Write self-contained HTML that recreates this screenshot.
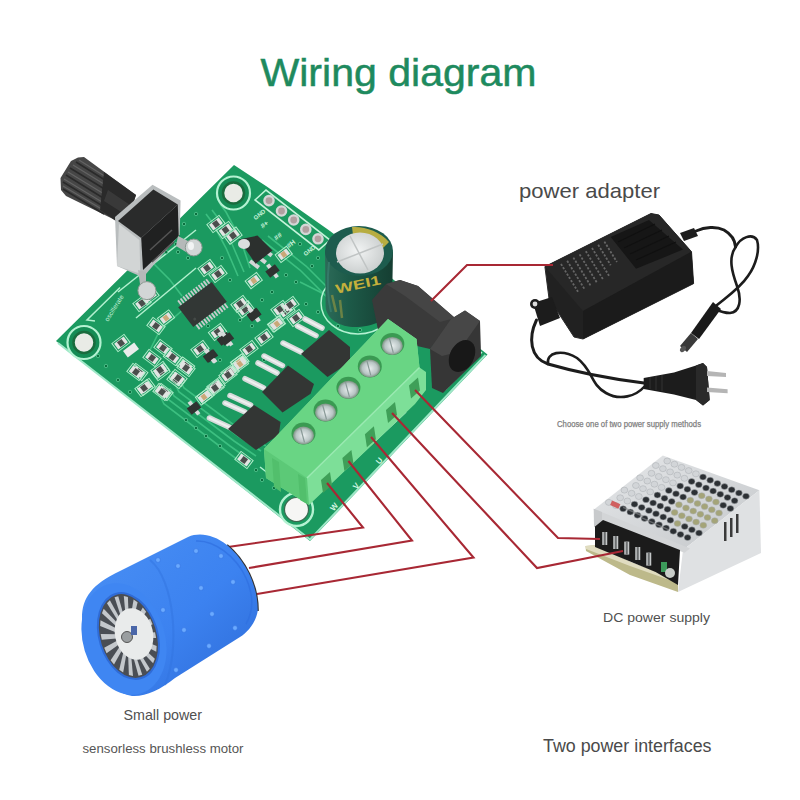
<!DOCTYPE html>
<html><head><meta charset="utf-8">
<style>
html,body{margin:0;padding:0;background:#fff;width:800px;height:800px;overflow:hidden}
svg{display:block}
text{font-family:"Liberation Sans",sans-serif}
</style></head>
<body>
<svg width="800" height="800" viewBox="0 0 800 800">
<defs>
<linearGradient id="knobG" x1="0" y1="0" x2="0" y2="1">
 <stop offset="0" stop-color="#3a3a3a"/><stop offset="0.5" stop-color="#1b1b1b"/><stop offset="1" stop-color="#2a2a2a"/>
</linearGradient>
<linearGradient id="capG" x1="0" y1="0" x2="1" y2="0">
 <stop offset="0" stop-color="#2c6a58"/><stop offset="0.35" stop-color="#1d5a48"/><stop offset="1" stop-color="#153e32"/>
</linearGradient>
<radialGradient id="capTop" cx="0.45" cy="0.45" r="0.6">
 <stop offset="0" stop-color="#f2f4f4"/><stop offset="1" stop-color="#c9cdcd"/>
</radialGradient>
<linearGradient id="motorG" x1="0" y1="0" x2="1" y2="1">
 <stop offset="0" stop-color="#4a90f4"/><stop offset="0.55" stop-color="#3c82f0"/><stop offset="1" stop-color="#2c6ad6"/>
</linearGradient>
<radialGradient id="screwG" cx="0.5" cy="0.5" r="0.5">
 <stop offset="0" stop-color="#e8eeee"/><stop offset="0.7" stop-color="#b8c4c4"/><stop offset="1" stop-color="#7a9080"/>
</radialGradient>
<linearGradient id="psuTop" x1="0" y1="0" x2="1" y2="1">
 <stop offset="0" stop-color="#e6e8ea"/><stop offset="1" stop-color="#c4c7ca"/>
</linearGradient>
</defs>
<rect width="800" height="800" fill="#fff"/>


<text x="260.5" y="86" font-size="38" fill="#1e8a5e" stroke="#1e8a5e" stroke-width="0.5" textLength="276" lengthAdjust="spacingAndGlyphs">Wiring diagram</text>
<text x="519" y="197.5" font-size="21" fill="#4a4a4a" textLength="141" lengthAdjust="spacingAndGlyphs">power adapter</text>
<text x="557" y="427" font-size="8.5" fill="#777" stroke="#888" stroke-width="0.25" textLength="144" lengthAdjust="spacingAndGlyphs">Choose one of two power supply methods</text>
<text x="603" y="621.5" font-size="13.5" fill="#505050" textLength="107" lengthAdjust="spacingAndGlyphs">DC power supply</text>
<text x="123.5" y="720" font-size="15" fill="#505050" textLength="78.5" lengthAdjust="spacingAndGlyphs">Small power</text>
<text x="82.5" y="753" font-size="12" fill="#555" textLength="161" lengthAdjust="spacingAndGlyphs">sensorless brushless motor</text>
<text x="543" y="751.5" font-size="17.5" fill="#4a4a4a" textLength="168.5" lengthAdjust="spacingAndGlyphs">Two power interfaces</text>

<polygon points="234,165 266,186 330,231 420,300 478,347 487.5,354.5 310,541 56,341" fill="#1b9a60"/>
<polyline points="58,343 310,539.5 485.5,355" fill="none" stroke="#9fe8c8" stroke-width="2"/>
<g fill="none" stroke="#3cbf80" stroke-width="1.6"><path d="M160,396 L164,404 L226,451 L246,466"/><path d="M165,392 L169,400 L230,446 L251,461"/><path d="M170,388 L174,396 L234,441 L256,456"/><path d="M175,384 L179,392 L238,436 L261,451"/><path d="M180,380 L184,388 L242,431 L266,446"/><path d="M206,214 L212,222 L226,248 L238,276"/><path d="M212,210 L218,218 L232,244 L244,272"/><path d="M220,204 L226,212 L240,238 L250,268"/><path d="M262,240 L300,270 L330,300"/><path d="M268,236 L306,266 L336,296"/><path d="M150,260 L170,280 L182,296"/><path d="M300,282 L320,292 L336,302"/><path d="M194,300 L160,330 L150,350"/></g>
<g fill="none" stroke="#b2f0cf" stroke-width="1.5"><polyline points="120,287.5 87,320 95,321"/><polyline points="118,292 196,230"/><polyline points="136,318 196,268"/><polyline points="300,470 316,484"/></g>
<text x="108" y="322" font-size="6.5" fill="#c8f2da" transform="rotate(-58 108 322)" textLength="30" lengthAdjust="spacingAndGlyphs">oscillerate</text>
<circle cx="233.5" cy="193" r="16.5" fill="#158c55" stroke="#b4f2d2" stroke-width="2.2"/>
<circle cx="233.5" cy="193" r="10.5" fill="#e9ebe6" stroke="#1a6c3e" stroke-width="2.5"/>
<circle cx="84" cy="342.5" r="16.5" fill="#158c55" stroke="#b4f2d2" stroke-width="2.2"/>
<circle cx="84" cy="342.5" r="10.5" fill="#e9ebe6" stroke="#1a6c3e" stroke-width="2.5"/>
<circle cx="296.5" cy="509.5" r="16.5" fill="#1b9a60" stroke="#b4f2d2" stroke-width="2.4"/>
<circle cx="296.5" cy="509.5" r="12" fill="#f6f6f4" stroke="#3a6a50" stroke-width="1.2"/>
<polyline points="260,467 287,488" fill="none" stroke="#b4f2d2" stroke-width="1.5"/>
<g fill="#0c7040" stroke="#5fd09a" stroke-width="0.7"><circle cx="196.0" cy="214.0" r="1.7"/><circle cx="184.0" cy="224.0" r="1.7"/><circle cx="172.0" cy="234.0" r="1.7"/><circle cx="140.0" cy="378.0" r="1.7"/><circle cx="150.0" cy="386.0" r="1.7"/><circle cx="118.0" cy="380.0" r="1.7"/><circle cx="130.0" cy="392.0" r="1.7"/><circle cx="186.0" cy="420.0" r="1.7"/><circle cx="196.0" cy="428.0" r="1.7"/><circle cx="206.0" cy="436.0" r="1.7"/><circle cx="220.0" cy="446.0" r="1.7"/><circle cx="262.0" cy="480.0" r="1.7"/><circle cx="274.0" cy="488.0" r="1.7"/><circle cx="256.0" cy="470.0" r="1.7"/><circle cx="208.0" cy="326.0" r="1.7"/><circle cx="262.0" cy="300.0" r="1.7"/><circle cx="272.0" cy="292.0" r="1.7"/><circle cx="318.0" cy="258.0" r="1.7"/><circle cx="312.0" cy="266.0" r="1.7"/><circle cx="306.0" cy="304.0" r="1.7"/><circle cx="318.0" cy="312.0" r="1.7"/><circle cx="330.0" cy="300.0" r="1.7"/><circle cx="286.0" cy="275.0" r="1.7"/><circle cx="296.0" cy="282.0" r="1.7"/><circle cx="230.0" cy="280.0" r="1.7"/><circle cx="178.0" cy="252.0" r="1.7"/><circle cx="188.0" cy="258.0" r="1.7"/><circle cx="166.0" cy="252.0" r="1.7"/><circle cx="176.0" cy="244.0" r="1.7"/><circle cx="338.0" cy="326.0" r="1.7"/><circle cx="350.0" cy="318.0" r="1.7"/><circle cx="360.0" cy="330.0" r="1.7"/><circle cx="98.0" cy="356.0" r="1.7"/><circle cx="106.0" cy="366.0" r="1.7"/><circle cx="240.0" cy="320.0" r="1.7"/><circle cx="252.0" cy="326.0" r="1.7"/><circle cx="220.0" cy="360.0" r="1.7"/><circle cx="264.0" cy="360.0" r="1.7"/><circle cx="222.0" cy="258.0" r="1.7"/><circle cx="300.0" cy="244.0" r="1.7"/><circle cx="344.0" cy="282.0" r="1.7"/><circle cx="352.0" cy="290.0" r="1.7"/></g>
<polygon points="255,200 266,190 330,240 318.75,250" fill="none" stroke="#c4f4da" stroke-width="1.6"/>
<g fill="#b0a0a0" stroke="#d4d6d6" stroke-width="2.4">
<circle cx="269" cy="200.6" r="4.6"/>
<circle cx="281.5" cy="211" r="4.6"/>
<circle cx="293.7" cy="220" r="4.6"/>
<circle cx="305.8" cy="229.4" r="4.6"/>
<circle cx="318" cy="238.8" r="4.6"/>
</g>
<g fill="#c8f2da" font-size="6" font-weight="bold"><text x="252" y="218" transform="rotate(-38 257 214)">GND</text><text x="259" y="226" font-size="7" transform="rotate(-38 265 222)">#+</text><text x="273" y="237" font-size="7" transform="rotate(-38 280 234)">##</text><text x="285" y="245" font-size="7" transform="rotate(-38 292 241)">#H</text><text x="302" y="254" transform="rotate(-38 307 250)">GND</text></g>
<g fill="#d4f6e2" font-size="8" font-weight="bold"><text x="329" y="509" transform="rotate(-50 334 505)">W</text><text x="352" y="488" transform="rotate(-50 356 484)">V</text><text x="375" y="463" transform="rotate(-50 379 459)">U</text></g>
<g fill="none" stroke="#c0f2d8" stroke-width="1.4"><polyline points="312,500 406,412"/><polyline points="445,390 482,352"/></g>
<g transform="translate(216,224) rotate(-37)"><rect x="-7.6" y="-5.1" width="15.2" height="10.2" fill="none" stroke="#b0ecca" stroke-width="1"/><rect x="-6.0" y="-3.5" width="12" height="7" fill="#e2e4e2"/><rect x="-2.8" y="-3.0" width="5.6" height="6" fill="#4a4e4c"/></g><g transform="translate(225.6,230) rotate(-37)"><rect x="-7.6" y="-5.1" width="15.2" height="10.2" fill="none" stroke="#b0ecca" stroke-width="1"/><rect x="-6.0" y="-3.5" width="12" height="7" fill="#e2e4e2"/><rect x="-2.8" y="-3.0" width="5.6" height="6" fill="#4a4e4c"/></g><g transform="translate(233,235.6) rotate(-37)"><rect x="-7.6" y="-5.1" width="15.2" height="10.2" fill="none" stroke="#b0ecca" stroke-width="1"/><rect x="-6.0" y="-3.5" width="12" height="7" fill="#e2e4e2"/><rect x="-2.8" y="-3.0" width="5.6" height="6" fill="#4a4e4c"/></g><g transform="translate(207,268) rotate(-37)"><rect x="-7.6" y="-5.1" width="15.2" height="10.2" fill="none" stroke="#b0ecca" stroke-width="1"/><rect x="-6.0" y="-3.5" width="12" height="7" fill="#e2e4e2"/><rect x="-2.8" y="-3.0" width="5.6" height="6" fill="#4a4e4c"/></g><g transform="translate(218,274) rotate(-37)"><rect x="-7.6" y="-5.1" width="15.2" height="10.2" fill="none" stroke="#b0ecca" stroke-width="1"/><rect x="-6.0" y="-3.5" width="12" height="7" fill="#e2e4e2"/><rect x="-2.8" y="-3.0" width="5.6" height="6" fill="#4a4e4c"/></g><g transform="translate(121,343) rotate(-37)"><rect x="-7.6" y="-5.1" width="15.2" height="10.2" fill="none" stroke="#b0ecca" stroke-width="1"/><rect x="-6.0" y="-3.5" width="12" height="7" fill="#e2e4e2"/><rect x="-2.8" y="-3.0" width="5.6" height="6" fill="#4a4e4c"/></g><g transform="translate(156,326) rotate(37)"><rect x="-7.6" y="-5.1" width="15.2" height="10.2" fill="none" stroke="#b0ecca" stroke-width="1"/><rect x="-6.0" y="-3.5" width="12" height="7" fill="#e2e4e2"/><rect x="-2.8" y="-3.0" width="5.6" height="6" fill="#4a4e4c"/></g><g transform="translate(163,348) rotate(37)"><rect x="-7.6" y="-5.1" width="15.2" height="10.2" fill="none" stroke="#b0ecca" stroke-width="1"/><rect x="-6.0" y="-3.5" width="12" height="7" fill="#e2e4e2"/><rect x="-2.8" y="-3.0" width="5.6" height="6" fill="#4a4e4c"/></g><g transform="translate(152,358) rotate(37)"><rect x="-7.6" y="-5.1" width="15.2" height="10.2" fill="none" stroke="#b0ecca" stroke-width="1"/><rect x="-6.0" y="-3.5" width="12" height="7" fill="#e2e4e2"/><rect x="-2.8" y="-3.0" width="5.6" height="6" fill="#4a4e4c"/></g><g transform="translate(172.5,357) rotate(37)"><rect x="-7.6" y="-5.1" width="15.2" height="10.2" fill="none" stroke="#b0ecca" stroke-width="1"/><rect x="-6.0" y="-3.5" width="12" height="7" fill="#e2e4e2"/><rect x="-2.8" y="-3.0" width="5.6" height="6" fill="#4a4e4c"/></g><g transform="translate(185.6,365.6) rotate(37)"><rect x="-7.6" y="-5.1" width="15.2" height="10.2" fill="none" stroke="#b0ecca" stroke-width="1"/><rect x="-6.0" y="-3.5" width="12" height="7" fill="#e2e4e2"/><rect x="-2.8" y="-3.0" width="5.6" height="6" fill="#4a4e4c"/></g><g transform="translate(138.75,372) rotate(37)"><rect x="-7.6" y="-5.1" width="15.2" height="10.2" fill="none" stroke="#b0ecca" stroke-width="1"/><rect x="-6.0" y="-3.5" width="12" height="7" fill="#e2e4e2"/><rect x="-2.8" y="-3.0" width="5.6" height="6" fill="#4a4e4c"/></g><g transform="translate(161,372) rotate(-37)"><rect x="-7.6" y="-5.1" width="15.2" height="10.2" fill="none" stroke="#b0ecca" stroke-width="1"/><rect x="-6.0" y="-3.5" width="12" height="7" fill="#e2e4e2"/><rect x="-2.8" y="-3.0" width="5.6" height="6" fill="#4a4e4c"/></g><g transform="translate(176,380) rotate(37)"><rect x="-7.6" y="-5.1" width="15.2" height="10.2" fill="none" stroke="#b0ecca" stroke-width="1"/><rect x="-6.0" y="-3.5" width="12" height="7" fill="#e2e4e2"/><rect x="-2.8" y="-3.0" width="5.6" height="6" fill="#4a4e4c"/></g><g transform="translate(146,387) rotate(-37)"><rect x="-7.6" y="-5.1" width="15.2" height="10.2" fill="none" stroke="#b0ecca" stroke-width="1"/><rect x="-6.0" y="-3.5" width="12" height="7" fill="#e2e4e2"/><rect x="-2.8" y="-3.0" width="5.6" height="6" fill="#4a4e4c"/></g><g transform="translate(164,392) rotate(37)"><rect x="-7.6" y="-5.1" width="15.2" height="10.2" fill="none" stroke="#b0ecca" stroke-width="1"/><rect x="-6.0" y="-3.5" width="12" height="7" fill="#e2e4e2"/><rect x="-2.8" y="-3.0" width="5.6" height="6" fill="#4a4e4c"/></g><g transform="translate(200,349) rotate(-37)"><rect x="-7.6" y="-5.1" width="15.2" height="10.2" fill="none" stroke="#b0ecca" stroke-width="1"/><rect x="-6.0" y="-3.5" width="12" height="7" fill="#e2e4e2"/><rect x="-2.8" y="-3.0" width="5.6" height="6" fill="#4a4e4c"/></g><g transform="translate(217.5,332) rotate(-37)"><rect x="-7.6" y="-5.1" width="15.2" height="10.2" fill="none" stroke="#b0ecca" stroke-width="1"/><rect x="-6.0" y="-3.5" width="12" height="7" fill="#e2e4e2"/><rect x="-2.8" y="-3.0" width="5.6" height="6" fill="#4a4e4c"/></g><g transform="translate(240,362) rotate(-37)"><rect x="-7.6" y="-5.1" width="15.2" height="10.2" fill="none" stroke="#b0ecca" stroke-width="1"/><rect x="-6.0" y="-3.5" width="12" height="7" fill="#e2e4e2"/><rect x="-2.8" y="-3.0" width="5.6" height="6" fill="#4a4e4c"/></g><g transform="translate(136,372) rotate(37)"><rect x="-7.6" y="-5.1" width="15.2" height="10.2" fill="none" stroke="#b0ecca" stroke-width="1"/><rect x="-6.0" y="-3.5" width="12" height="7" fill="#e2e4e2"/><rect x="-2.8" y="-3.0" width="5.6" height="6" fill="#4a4e4c"/></g><g transform="translate(160,370) rotate(-37)"><rect x="-7.6" y="-5.1" width="15.2" height="10.2" fill="none" stroke="#b0ecca" stroke-width="1"/><rect x="-6.0" y="-3.5" width="12" height="7" fill="#e2e4e2"/><rect x="-2.8" y="-3.0" width="5.6" height="6" fill="#4a4e4c"/></g><g transform="translate(178,378) rotate(37)"><rect x="-7.6" y="-5.1" width="15.2" height="10.2" fill="none" stroke="#b0ecca" stroke-width="1"/><rect x="-6.0" y="-3.5" width="12" height="7" fill="#e2e4e2"/><rect x="-2.8" y="-3.0" width="5.6" height="6" fill="#4a4e4c"/></g><g transform="translate(144,388) rotate(-37)"><rect x="-7.6" y="-5.1" width="15.2" height="10.2" fill="none" stroke="#b0ecca" stroke-width="1"/><rect x="-6.0" y="-3.5" width="12" height="7" fill="#e2e4e2"/><rect x="-2.8" y="-3.0" width="5.6" height="6" fill="#4a4e4c"/></g><g transform="translate(162,392) rotate(37)"><rect x="-7.6" y="-5.1" width="15.2" height="10.2" fill="none" stroke="#b0ecca" stroke-width="1"/><rect x="-6.0" y="-3.5" width="12" height="7" fill="#e2e4e2"/><rect x="-2.8" y="-3.0" width="5.6" height="6" fill="#4a4e4c"/></g><g transform="translate(186,368) rotate(37)"><rect x="-7.6" y="-5.1" width="15.2" height="10.2" fill="none" stroke="#b0ecca" stroke-width="1"/><rect x="-6.0" y="-3.5" width="12" height="7" fill="#e2e4e2"/><rect x="-2.8" y="-3.0" width="5.6" height="6" fill="#4a4e4c"/></g><g transform="translate(216,386) rotate(-37)"><rect x="-7.6" y="-5.1" width="15.2" height="10.2" fill="none" stroke="#b0ecca" stroke-width="1"/><rect x="-6.0" y="-3.5" width="12" height="7" fill="#e2e4e2"/><rect x="-2.8" y="-3.0" width="5.6" height="6" fill="#4a4e4c"/></g><g transform="translate(230,372) rotate(-37)"><rect x="-7.6" y="-5.1" width="15.2" height="10.2" fill="none" stroke="#b0ecca" stroke-width="1"/><rect x="-6.0" y="-3.5" width="12" height="7" fill="#e2e4e2"/><rect x="-2.8" y="-3.0" width="5.6" height="6" fill="#4a4e4c"/></g><g transform="translate(244,460) rotate(37)"><rect x="-7.6" y="-5.1" width="15.2" height="10.2" fill="none" stroke="#b0ecca" stroke-width="1"/><rect x="-6.0" y="-3.5" width="12" height="7" fill="#e2e4e2"/><rect x="-2.8" y="-3.0" width="5.6" height="6" fill="#4a4e4c"/></g><g transform="translate(245,309.4) rotate(-37)"><rect x="-7.6" y="-5.1" width="15.2" height="10.2" fill="none" stroke="#b0ecca" stroke-width="1"/><rect x="-6.0" y="-3.5" width="12" height="7" fill="#e2e4e2"/><rect x="-2.8" y="-3.0" width="5.6" height="6" fill="#4a4e4c"/></g><g transform="translate(286,311) rotate(-37)"><rect x="-7.6" y="-5.1" width="15.2" height="10.2" fill="none" stroke="#b0ecca" stroke-width="1"/><rect x="-6.0" y="-3.5" width="12" height="7" fill="#e2e4e2"/><rect x="-2.8" y="-3.0" width="5.6" height="6" fill="#4a4e4c"/></g><g transform="translate(296,318) rotate(-37)"><rect x="-7.6" y="-5.1" width="15.2" height="10.2" fill="none" stroke="#b0ecca" stroke-width="1"/><rect x="-6.0" y="-3.5" width="12" height="7" fill="#e2e4e2"/><rect x="-2.8" y="-3.0" width="5.6" height="6" fill="#4a4e4c"/></g><g transform="translate(264,337.5) rotate(-37)"><rect x="-7.6" y="-5.1" width="15.2" height="10.2" fill="none" stroke="#b0ecca" stroke-width="1"/><rect x="-6.0" y="-3.5" width="12" height="7" fill="#e2e4e2"/><rect x="-2.8" y="-3.0" width="5.6" height="6" fill="#4a4e4c"/></g><g transform="translate(249,349) rotate(-37)"><rect x="-7.6" y="-5.1" width="15.2" height="10.2" fill="none" stroke="#b0ecca" stroke-width="1"/><rect x="-6.0" y="-3.5" width="12" height="7" fill="#e2e4e2"/><rect x="-2.8" y="-3.0" width="5.6" height="6" fill="#4a4e4c"/></g><g transform="translate(228,375) rotate(-37)"><rect x="-7.6" y="-5.1" width="15.2" height="10.2" fill="none" stroke="#b0ecca" stroke-width="1"/><rect x="-6.0" y="-3.5" width="12" height="7" fill="#e2e4e2"/><rect x="-2.8" y="-3.0" width="5.6" height="6" fill="#4a4e4c"/></g><g transform="translate(215,388) rotate(-37)"><rect x="-7.6" y="-5.1" width="15.2" height="10.2" fill="none" stroke="#b0ecca" stroke-width="1"/><rect x="-6.0" y="-3.5" width="12" height="7" fill="#e2e4e2"/><rect x="-2.8" y="-3.0" width="5.6" height="6" fill="#4a4e4c"/></g><g transform="translate(240,304) rotate(-37)"><rect x="-7.6" y="-5.1" width="15.2" height="10.2" fill="none" stroke="#b0ecca" stroke-width="1"/><rect x="-6.0" y="-3.5" width="12" height="7" fill="#e2e4e2"/><rect x="-2.8" y="-3.0" width="5.6" height="6" fill="#4a4e4c"/></g><g transform="translate(280,309) rotate(-37)"><rect x="-7.6" y="-5.1" width="15.2" height="10.2" fill="none" stroke="#b0ecca" stroke-width="1"/><rect x="-6.0" y="-3.5" width="12" height="7" fill="#e2e4e2"/><rect x="-2.8" y="-3.0" width="5.6" height="6" fill="#4a4e4c"/></g><g transform="translate(290,305) rotate(-37)"><rect x="-7.6" y="-5.1" width="15.2" height="10.2" fill="none" stroke="#b0ecca" stroke-width="1"/><rect x="-6.0" y="-3.5" width="12" height="7" fill="#e2e4e2"/><rect x="-2.8" y="-3.0" width="5.6" height="6" fill="#4a4e4c"/></g><g transform="translate(142,303) rotate(-37)"><rect x="-7.6" y="-5.1" width="15.2" height="10.2" fill="none" stroke="#b0ecca" stroke-width="1"/><rect x="-6.0" y="-3.5" width="12" height="7" fill="#e2e4e2"/><rect x="-2.8" y="-3.0" width="5.6" height="6" fill="#4a4e4c"/></g><g transform="translate(150,296) rotate(-37)"><rect x="-7.6" y="-5.1" width="15.2" height="10.2" fill="none" stroke="#b0ecca" stroke-width="1"/><rect x="-6.0" y="-3.5" width="12" height="7" fill="#e2e4e2"/><rect x="-2.8" y="-3.0" width="5.6" height="6" fill="#4a4e4c"/></g>
<g transform="translate(166,318) rotate(-37)"><rect x="-7.1" y="-4.85" width="14.2" height="9.7" fill="none" stroke="#b0ecca" stroke-width="1"/><rect x="-5.5" y="-3.25" width="11" height="6.5" fill="#e0e2e0"/><rect x="-2.3" y="-2.75" width="4.6" height="5.5" fill="#c9a878"/></g><g transform="translate(283.75,254.4) rotate(-37)"><rect x="-7.1" y="-4.85" width="14.2" height="9.7" fill="none" stroke="#b0ecca" stroke-width="1"/><rect x="-5.5" y="-3.25" width="11" height="6.5" fill="#e0e2e0"/><rect x="-2.3" y="-2.75" width="4.6" height="5.5" fill="#c9a878"/></g><g transform="translate(253.75,280.6) rotate(-37)"><rect x="-7.1" y="-4.85" width="14.2" height="9.7" fill="none" stroke="#b0ecca" stroke-width="1"/><rect x="-5.5" y="-3.25" width="11" height="6.5" fill="#e0e2e0"/><rect x="-2.3" y="-2.75" width="4.6" height="5.5" fill="#c9a878"/></g><g transform="translate(276,324) rotate(-37)"><rect x="-7.1" y="-4.85" width="14.2" height="9.7" fill="none" stroke="#b0ecca" stroke-width="1"/><rect x="-5.5" y="-3.25" width="11" height="6.5" fill="#e0e2e0"/><rect x="-2.3" y="-2.75" width="4.6" height="5.5" fill="#c9a878"/></g><g transform="translate(277,324) rotate(-37)"><rect x="-7.1" y="-4.85" width="14.2" height="9.7" fill="none" stroke="#b0ecca" stroke-width="1"/><rect x="-5.5" y="-3.25" width="11" height="6.5" fill="#e0e2e0"/><rect x="-2.3" y="-2.75" width="4.6" height="5.5" fill="#c9a878"/></g><g transform="translate(239,362) rotate(-37)"><rect x="-7.1" y="-4.85" width="14.2" height="9.7" fill="none" stroke="#b0ecca" stroke-width="1"/><rect x="-5.5" y="-3.25" width="11" height="6.5" fill="#e0e2e0"/><rect x="-2.3" y="-2.75" width="4.6" height="5.5" fill="#c9a878"/></g><g transform="translate(205.6,395.6) rotate(-37)"><rect x="-7.1" y="-4.85" width="14.2" height="9.7" fill="none" stroke="#b0ecca" stroke-width="1"/><rect x="-5.5" y="-3.25" width="11" height="6.5" fill="#e0e2e0"/><rect x="-2.3" y="-2.75" width="4.6" height="5.5" fill="#c9a878"/></g><g transform="translate(204,397) rotate(-37)"><rect x="-7.1" y="-4.85" width="14.2" height="9.7" fill="none" stroke="#b0ecca" stroke-width="1"/><rect x="-5.5" y="-3.25" width="11" height="6.5" fill="#e0e2e0"/><rect x="-2.3" y="-2.75" width="4.6" height="5.5" fill="#c9a878"/></g><g transform="translate(240,364) rotate(-37)"><rect x="-7.1" y="-4.85" width="14.2" height="9.7" fill="none" stroke="#b0ecca" stroke-width="1"/><rect x="-5.5" y="-3.25" width="11" height="6.5" fill="#e0e2e0"/><rect x="-2.3" y="-2.75" width="4.6" height="5.5" fill="#c9a878"/></g>
<g transform="translate(131,350) rotate(-37)"><rect x="-7" y="-4" width="14" height="8" fill="#e8ecea"/></g>
<g transform="translate(272.5,271) rotate(-37)"><rect x="-2" y="-8" width="4" height="16" fill="#d8dcdc"/><rect x="-6" y="-4" width="12" height="8" fill="#2f3331"/></g>
<g transform="translate(253.75,314.4) rotate(-37)"><rect x="-2" y="-8" width="4" height="16" fill="#d8dcdc"/><rect x="-6" y="-4" width="12" height="8" fill="#2f3331"/></g>
<g transform="translate(223.75,338.75) rotate(-37)"><rect x="-2" y="-8" width="4" height="16" fill="#d8dcdc"/><rect x="-6" y="-4" width="12" height="8" fill="#2f3331"/></g>
<g transform="translate(224,339) rotate(-37)"><rect x="-2" y="-8" width="4" height="16" fill="#d8dcdc"/><rect x="-6" y="-4" width="12" height="8" fill="#2f3331"/></g>
<g transform="translate(211,356) rotate(-37)"><rect x="-2" y="-8" width="4" height="16" fill="#d8dcdc"/><rect x="-6" y="-4" width="12" height="8" fill="#2f3331"/></g>
<g transform="translate(194,408) rotate(-37)"><rect x="-2" y="-8" width="4" height="16" fill="#d8dcdc"/><rect x="-6" y="-4" width="12" height="8" fill="#2f3331"/></g>
<g transform="translate(254.4,315) rotate(-37)"><rect x="-2" y="-8" width="4" height="16" fill="#d8dcdc"/><rect x="-6" y="-4" width="12" height="8" fill="#2f3331"/></g>
<g transform="translate(227,339) rotate(-37)"><rect x="-2" y="-8" width="4" height="16" fill="#d8dcdc"/><rect x="-6" y="-4" width="12" height="8" fill="#2f3331"/></g>
<g transform="translate(210,356) rotate(-37)"><rect x="-2" y="-8" width="4" height="16" fill="#d8dcdc"/><rect x="-6" y="-4" width="12" height="8" fill="#2f3331"/></g>
<line x1="305" y1="319" x2="322" y2="328" stroke="#d6dada" stroke-width="5.5" stroke-linecap="round"/><line x1="305" y1="319" x2="322" y2="328" stroke="#f4f6f6" stroke-width="2" stroke-linecap="round" opacity="0.8"/><line x1="297.5" y1="326" x2="316" y2="335.6" stroke="#d6dada" stroke-width="5.5" stroke-linecap="round"/><line x1="297.5" y1="326" x2="316" y2="335.6" stroke="#f4f6f6" stroke-width="2" stroke-linecap="round" opacity="0.8"/><line x1="283" y1="343" x2="301" y2="352" stroke="#d6dada" stroke-width="5.5" stroke-linecap="round"/><line x1="283" y1="343" x2="301" y2="352" stroke="#f4f6f6" stroke-width="2" stroke-linecap="round" opacity="0.8"/><line x1="264" y1="356" x2="282.5" y2="365.6" stroke="#d6dada" stroke-width="5.5" stroke-linecap="round"/><line x1="264" y1="356" x2="282.5" y2="365.6" stroke="#f4f6f6" stroke-width="2" stroke-linecap="round" opacity="0.8"/><line x1="258" y1="363" x2="277" y2="373" stroke="#d6dada" stroke-width="5.5" stroke-linecap="round"/><line x1="258" y1="363" x2="277" y2="373" stroke="#f4f6f6" stroke-width="2" stroke-linecap="round" opacity="0.8"/><line x1="245" y1="378.7" x2="263.7" y2="388" stroke="#d6dada" stroke-width="5.5" stroke-linecap="round"/><line x1="245" y1="378.7" x2="263.7" y2="388" stroke="#f4f6f6" stroke-width="2" stroke-linecap="round" opacity="0.8"/><line x1="230" y1="395.6" x2="250.6" y2="405" stroke="#d6dada" stroke-width="5.5" stroke-linecap="round"/><line x1="230" y1="395.6" x2="250.6" y2="405" stroke="#f4f6f6" stroke-width="2" stroke-linecap="round" opacity="0.8"/><line x1="225" y1="403" x2="245" y2="412" stroke="#d6dada" stroke-width="5.5" stroke-linecap="round"/><line x1="225" y1="403" x2="245" y2="412" stroke="#f4f6f6" stroke-width="2" stroke-linecap="round" opacity="0.8"/><line x1="209.4" y1="418" x2="230" y2="427.5" stroke="#d6dada" stroke-width="5.5" stroke-linecap="round"/><line x1="209.4" y1="418" x2="230" y2="427.5" stroke="#f4f6f6" stroke-width="2" stroke-linecap="round" opacity="0.8"/>
<g transform="translate(202.5,304.5) rotate(-37)"><rect x="-18.0" y="-18" width="1.8" height="36" fill="#c9cccc"/><rect x="-14.8" y="-18" width="1.8" height="36" fill="#c9cccc"/><rect x="-11.6" y="-18" width="1.8" height="36" fill="#c9cccc"/><rect x="-8.399999999999999" y="-18" width="1.8" height="36" fill="#c9cccc"/><rect x="-5.199999999999999" y="-18" width="1.8" height="36" fill="#c9cccc"/><rect x="-2.0" y="-18" width="1.8" height="36" fill="#c9cccc"/><rect x="1.2000000000000028" y="-18" width="1.8" height="36" fill="#c9cccc"/><rect x="4.400000000000002" y="-18" width="1.8" height="36" fill="#c9cccc"/><rect x="7.600000000000001" y="-18" width="1.8" height="36" fill="#c9cccc"/><rect x="10.8" y="-18" width="1.8" height="36" fill="#c9cccc"/><rect x="14.0" y="-18" width="1.8" height="36" fill="#c9cccc"/><rect x="17.200000000000003" y="-18" width="1.8" height="36" fill="#c9cccc"/><rect x="-21" y="-12.5" width="42" height="25" fill="#323735"/><circle cx="-15" cy="7" r="1.5" fill="#444a47"/></g>
<g fill="#d2d6d6"><rect x="262" y="250" width="11" height="4" transform="rotate(37 267 252)"/><rect x="256" y="257" width="11" height="4" transform="rotate(37 261 259)"/><rect x="249" y="262" width="11" height="4" transform="rotate(37 254 264)"/></g>
<polygon points="238.75,239.4 257.5,235.6 272.5,250.6 255.6,263.75" fill="#2c302e"/><ellipse cx="244" cy="244" rx="6" ry="5" fill="#dadede"/>
<g fill="#333634"><polygon points="301,354 329,330 350,347 350,362 327.5,377"/><polygon points="262,392 288,365.6 314,384 310.6,393.75 282.5,412.5"/><polygon points="228,429 254,405 280.6,422 278.75,435 256,450"/></g>
<g id="pot">
 <polygon points="71,161 78,157.5 84,157 114,179 136,195 126,225 119,223 113,219 66,196 61,190 60.5,178" fill="#464646"/>
 <g stroke="#2a2a2a" stroke-width="1.6">
  <line x1="76" y1="162" x2="113" y2="185"/><line x1="70" y1="168" x2="111" y2="193"/>
  <line x1="66" y1="175" x2="108" y2="201"/><line x1="63" y1="182" x2="106" y2="208"/><line x1="63" y1="189" x2="104" y2="214"/>
 </g>
 <g stroke="#636363" stroke-width="1.2">
  <line x1="79" y1="160" x2="114" y2="182"/><line x1="73" y1="165" x2="112" y2="189"/>
  <line x1="68" y1="172" x2="109" y2="197"/><line x1="64" y1="179" x2="107" y2="205"/><line x1="63" y1="186" x2="105" y2="211"/>
 </g>
 <polygon points="104,172 136,195 126,225 119,223 100,210" fill="#2a2a2a"/>
 <polygon points="108,190 130,205 126,215 104,201" fill="#444" opacity="0.6"/>
 <polygon points="115,217 152.5,184.7 180.6,200.6 179.7,234.4 143,277.5 117,266" fill="#b9bdbe"/>
 <polygon points="118,221 153.4,189.4 177.8,204.4 141.2,238" fill="#2a2b2b"/>
 <polygon points="141.2,238 177.8,204.4 178.7,236.2 143,270" fill="#202121"/>
 <polygon points="119,224 139.4,240 140.3,273.7 117,266" fill="#d2d5d5"/>
 <g stroke="#555" stroke-width="1.5"><line x1="150" y1="250" x2="172" y2="230"/><line x1="152" y1="262" x2="174" y2="242"/></g>
 <polygon points="178,236 190,242 186,252 176,246" fill="#b5b9b9"/>
 <circle cx="193.7" cy="247.5" r="8.4" fill="#d2d6d6" stroke="#8c9a92" stroke-width="1"/>
 <ellipse cx="191" cy="246" rx="3" ry="4" fill="#f2f4f4"/>
 <polygon points="138,270 146,272 146,284 140,284" fill="#b5b9b9"/>
 <circle cx="146.9" cy="290.6" r="9" fill="#d2d6d6" stroke="#8c9a92" stroke-width="1"/>
</g>
<g id="cap">
 <ellipse cx="358" cy="303" rx="37" ry="31" fill="none" stroke="#b4f2d2" stroke-width="1.5"/>
 <path d="M325,252 L325.6,306 C326,320 342,328 358,327 C376,326 392,318 392,304 L393,252 Z" fill="url(#capG)"/>
 <ellipse cx="359" cy="251" rx="34" ry="25" fill="#1d5c4e"/>
 <path d="M352,227 C364,226 380,231 389,242 L383,248 C375,240 364,236 353,235 Z" fill="#c9b640" opacity="0.9"/>
 <ellipse cx="360" cy="253" rx="24" ry="20.5" fill="url(#capTop)"/>
 <line x1="350" y1="236" x2="368" y2="270" stroke="#c0c4c4" stroke-width="1.5"/>
 <line x1="337" y1="262" x2="383" y2="244" stroke="#c0c4c4" stroke-width="1.5"/>
 <text x="335" y="289" font-size="13" font-weight="bold" fill="#c4b03c" transform="rotate(-12 358 284)" textLength="46" lengthAdjust="spacingAndGlyphs">WEI1</text>
 <path d="M332,295 L336,312 M340,300 L342,318" stroke="#9a9a40" stroke-width="2.5" opacity="0.6"/>
 <path d="M329,262 C327,280 328,300 331,312" stroke="#3a8070" stroke-width="2" fill="none" opacity="0.7"/>
</g>
<g id="jack">
 <polygon points="372,300 386,284 400,280 418,286 455,318 430,349 400,342 378,330" fill="#3a3a3a"/>
 <polygon points="386,284 400,280 418,286 455,318 440,322 405,296" fill="#454545"/>
 <polygon points="430,349 451,319 465,310.5 480,321 480.75,345.5 481,356 443,393 432,388" fill="#363636"/>
 <polygon points="430,349 451,319 465,310.5 480,321 458,352 442,356" fill="#474747"/>
 <ellipse cx="462" cy="356" rx="12" ry="17" transform="rotate(28 462 356)" fill="#181818"/>
</g>
<g id="term">
 <polygon points="264,449 388,319 416.5,339 419.5,367.5 426,372 426,390 415,404 309,505 266,478" fill="#7ddf98"/>
 <polygon points="264,449 388,319 416.5,339 419.5,367.5 307,478 268,456" fill="#69d584"/>
 <polygon points="264,449 307,478 309,505 266,478" fill="#5cc977"/>
 <line x1="307" y1="478" x2="419.5" y2="367.5" stroke="#9aeab2" stroke-width="1.5"/>
 <polygon points="272,458 279,462 281,492 274,487" fill="#52bf6c"/>
 <polygon points="298,474 305,478 307,504 300,500" fill="#52bf6c"/>

<ellipse cx="392.3" cy="343.9" rx="12" ry="11" fill="#3a9a52"/>
<ellipse cx="392.3" cy="345.9" rx="10.5" ry="9" fill="url(#screwG)"/>
<line x1="389.3" y1="337.9" x2="393.3" y2="352.9" stroke="#8a9a98" stroke-width="1.2"/>
<ellipse cx="369.8" cy="366.4" rx="12" ry="11" fill="#3a9a52"/>
<ellipse cx="369.8" cy="368.4" rx="10.5" ry="9" fill="url(#screwG)"/>
<line x1="366.8" y1="360.4" x2="370.8" y2="375.4" stroke="#8a9a98" stroke-width="1.2"/>
<ellipse cx="348.4" cy="387.8" rx="12" ry="11" fill="#3a9a52"/>
<ellipse cx="348.4" cy="389.8" rx="10.5" ry="9" fill="url(#screwG)"/>
<line x1="345.4" y1="381.8" x2="349.4" y2="396.8" stroke="#8a9a98" stroke-width="1.2"/>
<ellipse cx="325.5" cy="410.5" rx="12" ry="11" fill="#3a9a52"/>
<ellipse cx="325.5" cy="412.5" rx="10.5" ry="9" fill="url(#screwG)"/>
<line x1="322.5" y1="404.5" x2="326.5" y2="419.5" stroke="#8a9a98" stroke-width="1.2"/>
<ellipse cx="303.5" cy="433.5" rx="12" ry="11" fill="#3a9a52"/>
<ellipse cx="303.5" cy="435.5" rx="10.5" ry="9" fill="url(#screwG)"/>
<line x1="300.5" y1="427.5" x2="304.5" y2="442.5" stroke="#8a9a98" stroke-width="1.2"/>
<polygon points="409,385.5 418,377.5 420,390.5 411,398.5" fill="#3f9f58"/>
<polygon points="386,410 395,402 397,415 388,423" fill="#3f9f58"/>
<polygon points="364.9,434.2 373.9,426.2 375.9,439.2 366.9,447.2" fill="#3f9f58"/>
<polygon points="342.4,458 351.4,450 353.4,463 344.4,471" fill="#3f9f58"/>
<polygon points="321,480 330,472 332,485 323,493" fill="#3f9f58"/>
</g>
<g id="adapter">
 <g fill="none" stroke="#1c1c1c" stroke-linecap="round">
  <path d="M696,231 C705,227 716,226 724,230 C731,234 735,240 735.6,247" stroke-width="3"/>
  <path d="M735.6,247 C741,237 752,233 757,240 C760,250 756,265 748,276 C740,288 728,296 717,305" stroke-width="2.6"/>
  <path d="M735.6,247 C728,258 732,272 737,286 C742,300 740,312 730,313 C724,313 719,311 715,309" stroke-width="2.6"/>
  <path d="M536.5,320 C528,338 530,358 548,364 C572,371 604,378 644,383" stroke-width="3"/>
  <path d="M548,364 C546,352 562,349 577,358 C593,370 590,384 606,393 C620,401 636,396 644,387" stroke-width="2.6"/>
 </g>
 <polygon points="680,233 694,228 698,236 684,241" fill="#1e1e1e"/>
 <polygon points="713,302 721,309 699,339 691,333" fill="#1a1a1a"/>
 <polygon points="691,333 698,339 687,352 680,346" fill="#3a3a3a"/>
 <ellipse cx="683" cy="349" rx="3.5" ry="2.5" transform="rotate(-50 683 349)" fill="#555"/>
 <polygon points="544.9,266.6 651,213.5 659,215 691.5,251.7 693.6,283.6 583,339 574,337 549,298.5" fill="#212121" stroke="#2a2a2a" stroke-width="1" stroke-linejoin="round"/>
 <polygon points="544.9,266.6 651,213.5 659,215 691.5,251.7 583,311" fill="#272727"/>
 <polygon points="610.7,237 649,219.9 683,249.6 636,268.7" fill="#161616"/>
 <g stroke="#101010" stroke-width="1.2"><line x1="618" y1="242" x2="655" y2="224"/><line x1="624" y1="248" x2="662" y2="230"/><line x1="630" y1="254" x2="669" y2="236"/><line x1="636" y1="260" x2="676" y2="242"/></g>
 <polygon points="583,311 691.5,251.7 693.6,283.6 583,339" fill="#1b1b1b"/>
 <g stroke="#7c7c7c" stroke-width="1.8" stroke-dasharray="2.2 1.6" opacity="0.75"><line x1="561.0" y1="264.0" x2="578.7" y2="292.9"/><line x1="567.2" y1="260.8" x2="584.9" y2="289.7"/><line x1="573.4" y1="257.6" x2="591.1" y2="286.5"/><line x1="579.6" y1="254.4" x2="597.3" y2="283.3"/><line x1="585.8" y1="251.2" x2="603.5" y2="280.1"/><line x1="592.0" y1="248.0" x2="609.7" y2="276.9"/><line x1="598.2" y1="244.8" x2="610.7" y2="265.2"/><line x1="604.4" y1="241.6" x2="616.9" y2="262.0"/></g>
 <polygon points="533,303 552,297 560,318 540,326" fill="#1c1c1c"/>
 <circle cx="535" cy="304" r="5" fill="#1e1e1e"/><circle cx="535" cy="304" r="2.4" fill="#ddd"/>
 <polygon points="643.7,378 674,372.5 696,365.6 703,363 707,367 709.7,400 703,405.5 696,400 674,394.5 643.7,389" fill="#1c1c1c"/>
 <polygon points="696,365.6 703,363 707,367 709.7,400 703,405.5 696,400" fill="#2a2a2a"/>
 <g stroke="#333" stroke-width="1"><line x1="650" y1="377" x2="650" y2="389"/><line x1="656" y1="376" x2="656" y2="390"/><line x1="662" y1="375" x2="662" y2="391"/></g>
 <polygon points="707,371 726,373 726,377 707,376" fill="#b5b5b5"/>
 <polygon points="707,387.6 727.6,389.2 727.6,393.2 707,392" fill="#b5b5b5"/>
</g>
<g id="psu">
 <polygon points="585.5,546 597,545 630,562 678,580 678,592 630,575 586,551" fill="#bdb98a"/>
 <polygon points="585.5,546 597,545 630,562 678,580 678,583 630,566 586,549" fill="#e0dcc0"/>
 <polygon points="593.4,510 662.8,455.6 759.4,490.3 683,550" fill="url(#psuTop)"/>
 <polygon points="683,550 759.4,490.3 761,553 678,592" fill="#dfe1e3"/>
 <polygon points="593.7,508.7 690,548.6 684.5,552.8 598,520" fill="#d3d5d7"/>
 <polygon points="593.7,508.7 602,512 602,528 594,527" fill="#c8cacc"/>
 <polygon points="595,526.6 603,520 680,550 678,585 655.6,572 595,547" fill="#1b1b1b"/>

<g><ellipse cx="608.8" cy="502.4" rx="3.4" ry="3.0" fill="#d2d5d8" stroke="#a8acb0" stroke-width="0.5"/><ellipse cx="615.9" cy="505.6" rx="3.4" ry="3.0" fill="#d2d5d8" stroke="#a8acb0" stroke-width="0.5"/><ellipse cx="623.1" cy="508.8" rx="3.4" ry="3.0" fill="#2c3034" stroke="#a8acb0" stroke-width="0.5"/><ellipse cx="630.3" cy="512.0" rx="3.4" ry="3.0" fill="#2c3034" stroke="#a8acb0" stroke-width="0.5"/><ellipse cx="637.5" cy="515.2" rx="3.4" ry="3.0" fill="#2c3034" stroke="#a8acb0" stroke-width="0.5"/><ellipse cx="644.6" cy="518.4" rx="3.4" ry="3.0" fill="#2c3034" stroke="#a8acb0" stroke-width="0.5"/><ellipse cx="651.8" cy="521.6" rx="3.4" ry="3.0" fill="#2c3034" stroke="#a8acb0" stroke-width="0.5"/><ellipse cx="659.0" cy="524.8" rx="3.4" ry="3.0" fill="#2c3034" stroke="#a8acb0" stroke-width="0.5"/><ellipse cx="666.1" cy="528.0" rx="3.4" ry="3.0" fill="#2c3034" stroke="#a8acb0" stroke-width="0.5"/><ellipse cx="673.3" cy="531.2" rx="3.4" ry="3.0" fill="#2c3034" stroke="#a8acb0" stroke-width="0.5"/><ellipse cx="680.5" cy="534.4" rx="3.4" ry="3.0" fill="#2c3034" stroke="#a8acb0" stroke-width="0.5"/><ellipse cx="687.6" cy="537.6" rx="3.4" ry="3.0" fill="#2c3034" stroke="#a8acb0" stroke-width="0.5"/><ellipse cx="620.2" cy="497.8" rx="3.4" ry="3.0" fill="#d2d5d8" stroke="#a8acb0" stroke-width="0.5"/><ellipse cx="627.4" cy="501.0" rx="3.4" ry="3.0" fill="#d2d5d8" stroke="#a8acb0" stroke-width="0.5"/><ellipse cx="634.5" cy="504.2" rx="3.4" ry="3.0" fill="#2c3034" stroke="#a8acb0" stroke-width="0.5"/><ellipse cx="641.7" cy="507.4" rx="3.4" ry="3.0" fill="#2c3034" stroke="#a8acb0" stroke-width="0.5"/><ellipse cx="648.9" cy="510.6" rx="3.4" ry="3.0" fill="#2c3034" stroke="#a8acb0" stroke-width="0.5"/><ellipse cx="656.0" cy="513.8" rx="3.4" ry="3.0" fill="#2c3034" stroke="#a8acb0" stroke-width="0.5"/><ellipse cx="663.2" cy="517.0" rx="3.4" ry="3.0" fill="#2c3034" stroke="#a8acb0" stroke-width="0.5"/><ellipse cx="670.4" cy="520.2" rx="3.4" ry="3.0" fill="#2c3034" stroke="#a8acb0" stroke-width="0.5"/><ellipse cx="677.5" cy="523.4" rx="3.4" ry="3.0" fill="#a4a478" stroke="#a8acb0" stroke-width="0.5"/><ellipse cx="684.7" cy="526.6" rx="3.4" ry="3.0" fill="#2c3034" stroke="#a8acb0" stroke-width="0.5"/><ellipse cx="691.9" cy="529.8" rx="3.4" ry="3.0" fill="#2c3034" stroke="#a8acb0" stroke-width="0.5"/><ellipse cx="699.0" cy="533.0" rx="3.4" ry="3.0" fill="#2c3034" stroke="#a8acb0" stroke-width="0.5"/><ellipse cx="624.4" cy="490.1" rx="3.4" ry="3.0" fill="#d2d5d8" stroke="#a8acb0" stroke-width="0.5"/><ellipse cx="631.6" cy="493.3" rx="3.4" ry="3.0" fill="#d2d5d8" stroke="#a8acb0" stroke-width="0.5"/><ellipse cx="638.8" cy="496.5" rx="3.4" ry="3.0" fill="#d2d5d8" stroke="#a8acb0" stroke-width="0.5"/><ellipse cx="646.0" cy="499.7" rx="3.4" ry="3.0" fill="#2c3034" stroke="#a8acb0" stroke-width="0.5"/><ellipse cx="653.1" cy="502.9" rx="3.4" ry="3.0" fill="#2c3034" stroke="#a8acb0" stroke-width="0.5"/><ellipse cx="660.3" cy="506.1" rx="3.4" ry="3.0" fill="#2c3034" stroke="#a8acb0" stroke-width="0.5"/><ellipse cx="667.5" cy="509.3" rx="3.4" ry="3.0" fill="#2c3034" stroke="#a8acb0" stroke-width="0.5"/><ellipse cx="674.6" cy="512.5" rx="3.4" ry="3.0" fill="#a4a478" stroke="#a8acb0" stroke-width="0.5"/><ellipse cx="681.8" cy="515.7" rx="3.4" ry="3.0" fill="#a4a478" stroke="#a8acb0" stroke-width="0.5"/><ellipse cx="689.0" cy="518.9" rx="3.4" ry="3.0" fill="#a4a478" stroke="#a8acb0" stroke-width="0.5"/><ellipse cx="696.1" cy="522.1" rx="3.4" ry="3.0" fill="#a4a478" stroke="#a8acb0" stroke-width="0.5"/><ellipse cx="703.3" cy="525.3" rx="3.4" ry="3.0" fill="#a4a478" stroke="#a8acb0" stroke-width="0.5"/><ellipse cx="635.9" cy="485.5" rx="3.4" ry="3.0" fill="#d2d5d8" stroke="#a8acb0" stroke-width="0.5"/><ellipse cx="643.0" cy="488.7" rx="3.4" ry="3.0" fill="#d2d5d8" stroke="#a8acb0" stroke-width="0.5"/><ellipse cx="650.2" cy="491.9" rx="3.4" ry="3.0" fill="#d2d5d8" stroke="#a8acb0" stroke-width="0.5"/><ellipse cx="657.4" cy="495.1" rx="3.4" ry="3.0" fill="#2c3034" stroke="#a8acb0" stroke-width="0.5"/><ellipse cx="664.5" cy="498.3" rx="3.4" ry="3.0" fill="#2c3034" stroke="#a8acb0" stroke-width="0.5"/><ellipse cx="671.7" cy="501.5" rx="3.4" ry="3.0" fill="#2c3034" stroke="#a8acb0" stroke-width="0.5"/><ellipse cx="678.9" cy="504.7" rx="3.4" ry="3.0" fill="#a4a478" stroke="#a8acb0" stroke-width="0.5"/><ellipse cx="686.0" cy="507.9" rx="3.4" ry="3.0" fill="#a4a478" stroke="#a8acb0" stroke-width="0.5"/><ellipse cx="693.2" cy="511.1" rx="3.4" ry="3.0" fill="#a4a478" stroke="#a8acb0" stroke-width="0.5"/><ellipse cx="700.4" cy="514.3" rx="3.4" ry="3.0" fill="#a4a478" stroke="#a8acb0" stroke-width="0.5"/><ellipse cx="707.5" cy="517.5" rx="3.4" ry="3.0" fill="#a4a478" stroke="#a8acb0" stroke-width="0.5"/><ellipse cx="714.7" cy="520.7" rx="3.4" ry="3.0" fill="#a4a478" stroke="#a8acb0" stroke-width="0.5"/><ellipse cx="640.1" cy="477.8" rx="3.4" ry="3.0" fill="#d2d5d8" stroke="#a8acb0" stroke-width="0.5"/><ellipse cx="647.3" cy="481.0" rx="3.4" ry="3.0" fill="#d2d5d8" stroke="#a8acb0" stroke-width="0.5"/><ellipse cx="654.4" cy="484.2" rx="3.4" ry="3.0" fill="#d2d5d8" stroke="#a8acb0" stroke-width="0.5"/><ellipse cx="661.6" cy="487.4" rx="3.4" ry="3.0" fill="#d2d5d8" stroke="#a8acb0" stroke-width="0.5"/><ellipse cx="668.8" cy="490.6" rx="3.4" ry="3.0" fill="#2c3034" stroke="#a8acb0" stroke-width="0.5"/><ellipse cx="676.0" cy="493.8" rx="3.4" ry="3.0" fill="#2c3034" stroke="#a8acb0" stroke-width="0.5"/><ellipse cx="683.1" cy="497.0" rx="3.4" ry="3.0" fill="#2c3034" stroke="#a8acb0" stroke-width="0.5"/><ellipse cx="690.3" cy="500.2" rx="3.4" ry="3.0" fill="#a4a478" stroke="#a8acb0" stroke-width="0.5"/><ellipse cx="697.5" cy="503.4" rx="3.4" ry="3.0" fill="#a4a478" stroke="#a8acb0" stroke-width="0.5"/><ellipse cx="704.6" cy="506.6" rx="3.4" ry="3.0" fill="#a4a478" stroke="#a8acb0" stroke-width="0.5"/><ellipse cx="711.8" cy="509.8" rx="3.4" ry="3.0" fill="#a4a478" stroke="#a8acb0" stroke-width="0.5"/><ellipse cx="719.0" cy="513.0" rx="3.4" ry="3.0" fill="#a4a478" stroke="#a8acb0" stroke-width="0.5"/><ellipse cx="651.5" cy="473.3" rx="3.4" ry="3.0" fill="#d2d5d8" stroke="#a8acb0" stroke-width="0.5"/><ellipse cx="658.7" cy="476.5" rx="3.4" ry="3.0" fill="#d2d5d8" stroke="#a8acb0" stroke-width="0.5"/><ellipse cx="665.9" cy="479.7" rx="3.4" ry="3.0" fill="#d2d5d8" stroke="#a8acb0" stroke-width="0.5"/><ellipse cx="673.0" cy="482.9" rx="3.4" ry="3.0" fill="#d2d5d8" stroke="#a8acb0" stroke-width="0.5"/><ellipse cx="680.2" cy="486.1" rx="3.4" ry="3.0" fill="#2c3034" stroke="#a8acb0" stroke-width="0.5"/><ellipse cx="687.4" cy="489.3" rx="3.4" ry="3.0" fill="#2c3034" stroke="#a8acb0" stroke-width="0.5"/><ellipse cx="694.5" cy="492.5" rx="3.4" ry="3.0" fill="#2c3034" stroke="#a8acb0" stroke-width="0.5"/><ellipse cx="701.7" cy="495.7" rx="3.4" ry="3.0" fill="#a4a478" stroke="#a8acb0" stroke-width="0.5"/><ellipse cx="708.9" cy="498.9" rx="3.4" ry="3.0" fill="#a4a478" stroke="#a8acb0" stroke-width="0.5"/><ellipse cx="716.0" cy="502.1" rx="3.4" ry="3.0" fill="#a4a478" stroke="#a8acb0" stroke-width="0.5"/><ellipse cx="723.2" cy="505.3" rx="3.4" ry="3.0" fill="#2c3034" stroke="#a8acb0" stroke-width="0.5"/><ellipse cx="730.4" cy="508.5" rx="3.4" ry="3.0" fill="#2c3034" stroke="#a8acb0" stroke-width="0.5"/><ellipse cx="655.8" cy="465.5" rx="3.4" ry="3.0" fill="#d2d5d8" stroke="#a8acb0" stroke-width="0.5"/><ellipse cx="662.9" cy="468.7" rx="3.4" ry="3.0" fill="#d2d5d8" stroke="#a8acb0" stroke-width="0.5"/><ellipse cx="670.1" cy="471.9" rx="3.4" ry="3.0" fill="#d2d5d8" stroke="#a8acb0" stroke-width="0.5"/><ellipse cx="677.3" cy="475.1" rx="3.4" ry="3.0" fill="#d2d5d8" stroke="#a8acb0" stroke-width="0.5"/><ellipse cx="684.4" cy="478.3" rx="3.4" ry="3.0" fill="#d2d5d8" stroke="#a8acb0" stroke-width="0.5"/><ellipse cx="691.6" cy="481.5" rx="3.4" ry="3.0" fill="#2c3034" stroke="#a8acb0" stroke-width="0.5"/><ellipse cx="698.8" cy="484.7" rx="3.4" ry="3.0" fill="#2c3034" stroke="#a8acb0" stroke-width="0.5"/><ellipse cx="706.0" cy="487.9" rx="3.4" ry="3.0" fill="#2c3034" stroke="#a8acb0" stroke-width="0.5"/><ellipse cx="713.1" cy="491.1" rx="3.4" ry="3.0" fill="#2c3034" stroke="#a8acb0" stroke-width="0.5"/><ellipse cx="720.3" cy="494.3" rx="3.4" ry="3.0" fill="#2c3034" stroke="#a8acb0" stroke-width="0.5"/><ellipse cx="727.5" cy="497.5" rx="3.4" ry="3.0" fill="#2c3034" stroke="#a8acb0" stroke-width="0.5"/><ellipse cx="734.6" cy="500.7" rx="3.4" ry="3.0" fill="#2c3034" stroke="#a8acb0" stroke-width="0.5"/><ellipse cx="667.2" cy="461.0" rx="3.4" ry="3.0" fill="#d2d5d8" stroke="#a8acb0" stroke-width="0.5"/><ellipse cx="674.4" cy="464.2" rx="3.4" ry="3.0" fill="#d2d5d8" stroke="#a8acb0" stroke-width="0.5"/><ellipse cx="681.5" cy="467.4" rx="3.4" ry="3.0" fill="#d2d5d8" stroke="#a8acb0" stroke-width="0.5"/><ellipse cx="688.7" cy="470.6" rx="3.4" ry="3.0" fill="#d2d5d8" stroke="#a8acb0" stroke-width="0.5"/><ellipse cx="695.9" cy="473.8" rx="3.4" ry="3.0" fill="#d2d5d8" stroke="#a8acb0" stroke-width="0.5"/><ellipse cx="703.0" cy="477.0" rx="3.4" ry="3.0" fill="#2c3034" stroke="#a8acb0" stroke-width="0.5"/><ellipse cx="710.2" cy="480.2" rx="3.4" ry="3.0" fill="#2c3034" stroke="#a8acb0" stroke-width="0.5"/><ellipse cx="717.4" cy="483.4" rx="3.4" ry="3.0" fill="#2c3034" stroke="#a8acb0" stroke-width="0.5"/><ellipse cx="724.5" cy="486.6" rx="3.4" ry="3.0" fill="#2c3034" stroke="#a8acb0" stroke-width="0.5"/><ellipse cx="731.7" cy="489.8" rx="3.4" ry="3.0" fill="#2c3034" stroke="#a8acb0" stroke-width="0.5"/><ellipse cx="738.9" cy="493.0" rx="3.4" ry="3.0" fill="#2c3034" stroke="#a8acb0" stroke-width="0.5"/><ellipse cx="746.0" cy="496.2" rx="3.4" ry="3.0" fill="#2c3034" stroke="#a8acb0" stroke-width="0.5"/></g>
<rect x="602.25" y="532" width="5" height="13" fill="#c4c7c8"/><rect x="603.75" y="532" width="2" height="13" fill="#6a6d6e"/>
<rect x="613.25" y="536" width="5" height="13" fill="#c4c7c8"/><rect x="614.75" y="536" width="2" height="13" fill="#6a6d6e"/>
<rect x="624.25" y="541.6" width="5" height="13" fill="#c4c7c8"/><rect x="625.75" y="541.6" width="2" height="13" fill="#6a6d6e"/>
<rect x="635.25" y="547" width="5" height="13" fill="#c4c7c8"/><rect x="636.75" y="547" width="2" height="13" fill="#6a6d6e"/>
<rect x="646.25" y="552.6" width="5" height="13" fill="#c4c7c8"/><rect x="647.75" y="552.6" width="2" height="13" fill="#6a6d6e"/>
<g fill="#3a3a3a"><rect x="724" y="522" width="2.5" height="19"/><rect x="730" y="518" width="2.5" height="19"/><rect x="736" y="514" width="2.5" height="19"/></g>
 <rect x="611" y="502" width="9" height="5" fill="#d06060" transform="rotate(24 615 504)"/>
 <g fill="#8a8c8e" opacity="0.6"><rect x="622" y="511" width="22" height="1.5" transform="rotate(24 633 512)"/><rect x="640" y="523" width="30" height="1.5" transform="rotate(24 655 524)"/></g>
 <rect x="661" y="562" width="6" height="10" fill="#3c9a5a"/>
 <circle cx="670" cy="573" r="5" fill="#c8ccc8"/>
</g>
<g fill="none" stroke="#a82834" stroke-width="2.1" stroke-linejoin="miter">
 <polyline points="431,301 467,265 553,265"/>
 <polyline points="415,390 558,538 600,539"/>
 <polyline points="392,413 537,568 623,551"/>
 <polyline points="371,437 473.5,557.5 257,594"/>
 <polyline points="348.4,461 412,540.5 249,568"/>
 <polyline points="327,483 363,527.5 228,547"/>
</g>
<g id="motor">
 <path d="M227,545 C245,560 258,585 257.7,611" fill="none" stroke="#333" stroke-width="2.2"/>
 <path d="M82,618 C82,598 92,584 120,571 L188,537 C200,532 214,535 227,545 C245,560 258,585 257.7,611 C256,622 248,632 240,637 L175,678 C160,690 145,697 132,696 C110,692 88,668 82,618 Z" fill="url(#motorG)"/>
 <path d="M196,541 C214,540 236,556 246,578 C254,596 253,612 246,624" fill="none" stroke="#2f6fe0" stroke-width="1.5" opacity="0.7"/>
 <path d="M150,560 C175,580 180,650 165,685" fill="none" stroke="#3273e0" stroke-width="2" opacity="0.5"/>
 <ellipse cx="124" cy="639" rx="41" ry="57" transform="rotate(-17 124 639)" fill="#3f86f2"/>
 <ellipse cx="128.4" cy="636" rx="30" ry="45" transform="rotate(-17 128.4 636)" fill="#2f6bd6"/>
 <ellipse cx="128.4" cy="636" rx="28" ry="43" transform="rotate(-17 128.4 636)" fill="#4a4e54"/>

<g transform="translate(128.4,636) rotate(-17) scale(0.65,1)"><polygon points="-2,-14 2,-14 3,-41 -3,-41" transform="rotate(0)" fill="#c4c8cc"/><polygon points="-2,-14 2,-14 3,-41 -3,-41" transform="rotate(20)" fill="#c4c8cc"/><polygon points="-2,-14 2,-14 3,-41 -3,-41" transform="rotate(40)" fill="#c4c8cc"/><polygon points="-2,-14 2,-14 3,-41 -3,-41" transform="rotate(60)" fill="#c4c8cc"/><polygon points="-2,-14 2,-14 3,-41 -3,-41" transform="rotate(80)" fill="#c4c8cc"/><polygon points="-2,-14 2,-14 3,-41 -3,-41" transform="rotate(100)" fill="#c4c8cc"/><polygon points="-2,-14 2,-14 3,-41 -3,-41" transform="rotate(120)" fill="#c4c8cc"/><polygon points="-2,-14 2,-14 3,-41 -3,-41" transform="rotate(140)" fill="#c4c8cc"/><polygon points="-2,-14 2,-14 3,-41 -3,-41" transform="rotate(160)" fill="#c4c8cc"/><polygon points="-2,-14 2,-14 3,-41 -3,-41" transform="rotate(180)" fill="#c4c8cc"/><polygon points="-2,-14 2,-14 3,-41 -3,-41" transform="rotate(200)" fill="#c4c8cc"/><polygon points="-2,-14 2,-14 3,-41 -3,-41" transform="rotate(220)" fill="#c4c8cc"/><polygon points="-2,-14 2,-14 3,-41 -3,-41" transform="rotate(240)" fill="#c4c8cc"/><polygon points="-2,-14 2,-14 3,-41 -3,-41" transform="rotate(260)" fill="#c4c8cc"/><polygon points="-2,-14 2,-14 3,-41 -3,-41" transform="rotate(280)" fill="#c4c8cc"/><polygon points="-2,-14 2,-14 3,-41 -3,-41" transform="rotate(300)" fill="#c4c8cc"/><polygon points="-2,-14 2,-14 3,-41 -3,-41" transform="rotate(320)" fill="#c4c8cc"/><polygon points="-2,-14 2,-14 3,-41 -3,-41" transform="rotate(340)" fill="#c4c8cc"/></g>

 <ellipse cx="134" cy="634" rx="19" ry="26" transform="rotate(-12 134 634)" fill="#e9ebeb"/>
 <circle cx="127" cy="637" r="5.5" fill="#9a9ea0" stroke="#555" stroke-width="1"/>
 <rect x="131" y="626" width="6" height="9" fill="#4a66a8"/>
 <g fill="#6aaaff" stroke="#3574e0" stroke-width="0.6">
  <circle cx="178" cy="566" r="2.4"/><circle cx="201" cy="588" r="2.4"/><circle cx="212" cy="614" r="2.4"/>
  <circle cx="233" cy="582" r="2.4"/><circle cx="221" cy="556" r="2.4"/><circle cx="184" cy="630" r="2.4"/>
  <circle cx="209" cy="646" r="2.4"/><circle cx="158" cy="560" r="2.4"/><circle cx="196" cy="551" r="2.4"/>
  <circle cx="235" cy="628" r="2.4"/><circle cx="176" cy="670" r="2.4"/><circle cx="163" cy="610" r="2.4"/>
 </g>
</g>
</svg>
</body></html>
